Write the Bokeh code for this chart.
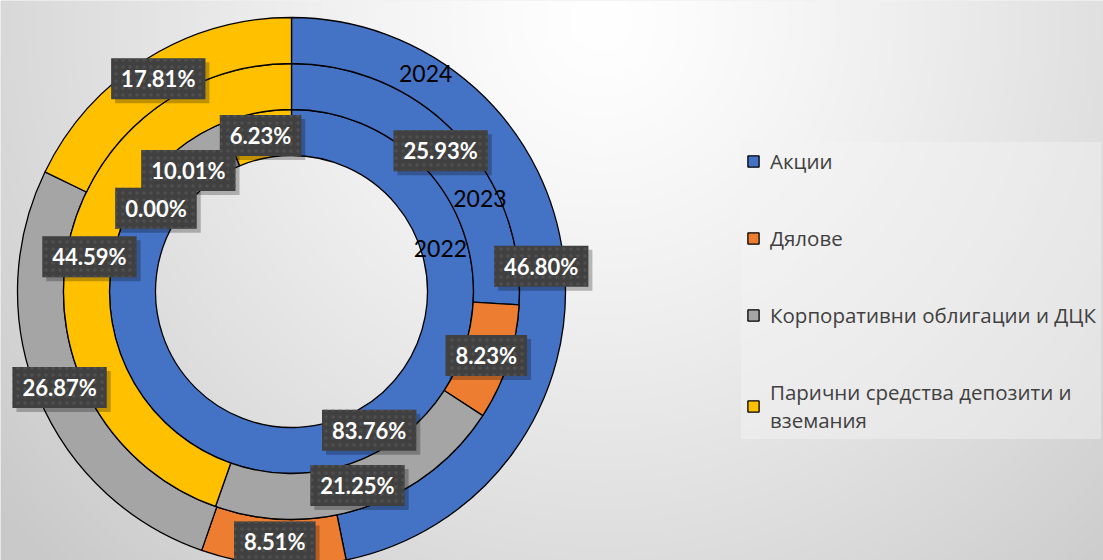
import numpy as np
from bokeh.plotting import figure
from bokeh.models import ColumnDataSource, Legend, LegendItem
from bokeh.core.properties import value
from bokeh.embed import file_html
from bokeh.resources import INLINE

# ---------------- data ----------------
categories = ["Акции", "Дялове", "Корпоративни облигации и ДЦК",
              "Парични средства депозити и\nвземания"]
years = ["2022", "2023", "2024"]          # inner -> outer ring
share_2022 = [83.76, 0.00, 10.01, 6.23]
share_2023 = [25.93, 8.23, 21.25, 44.59]
share_2024 = [46.80, 8.51, 26.87, 17.81]
colors = ["#4472C4", "#ED7D31", "#A5A5A5", "#FFC000"]

# ---------------- layout ----------------
W, H = 1103, 560
CX, CY = 291, 269            # donut centre (data units = pixels)
HOLE = 136                   # inner radius of the innermost ring
RING = 46                    # ring thickness
year_label_angle = [73.9, 63.8, 31.6]   # degrees clockwise from top
year_label_radius_shift = [-4, 5, 5]

rings = [share_2022, share_2023, share_2024]

p = figure(width=W, height=H, x_range=(0, W), y_range=(0, H),
           output_backend="svg", toolbar_location=None, min_border=0)
p.axis.visible = False
p.grid.visible = False
p.outline_line_color = None
p.background_fill_color = "#e6e6e6"
p.border_fill_color = "#e6e6e6"

# soft radial background (white at top, grey towards the corners)
yy, xx = np.mgrid[0:H, 0:W]
top_y = H - 1 - yy
d = np.hypot(xx - 600, top_y - 20)
v = 255 - 54 * np.clip(d / 780.0, 0, 1) ** 1.25
img = np.zeros((H, W), dtype=np.uint32)
view = img.view(dtype=np.uint8).reshape((H, W, 4))
g = v.astype(np.uint8)
view[:, :, 0] = g
view[:, :, 1] = g
view[:, :, 2] = g
view[:, :, 3] = 255
p.image_rgba(image=[img], x=0, y=0, dw=W, dh=H)

# ---------------- wedges ----------------
def frac_bounds(shares):
    tot = float(sum(shares))
    cum = np.cumsum([0.0] + list(shares)) / tot
    return cum[:-1], cum[1:]

bounds = [frac_bounds(s) for s in rings]

renderers = []
for ci, cat in enumerate(categories):
    xs, ys, inner, outer, sa, ea = [], [], [], [], [], []
    for ri, shares in enumerate(rings):
        if shares[ci] <= 0:
            continue
        f0, f1 = bounds[ri][0][ci], bounds[ri][1][ci]
        xs.append(CX)
        ys.append(CY)
        inner.append(HOLE + RING * ri)
        outer.append(HOLE + RING * (ri + 1))
        sa.append(np.pi / 2 - 2 * np.pi * f1)
        ea.append(np.pi / 2 - 2 * np.pi * f0)
    src = ColumnDataSource(dict(x=xs, y=ys, ir=inner, orr=outer, sa=sa, ea=ea))
    r = p.annular_wedge(x="x", y="y", inner_radius="ir", outer_radius="orr",
                        start_angle="sa", end_angle="ea", source=src,
                        fill_color=colors[ci], line_color="black", line_width=1.3)
    renderers.append(r)

# ---------------- year names ----------------
yx, yyy = [], []
for ri, yr in enumerate(years):
    rad = HOLE + RING * ri + RING / 2 + year_label_radius_shift[ri]
    t = np.deg2rad(year_label_angle[ri])
    yx.append(CX + rad * np.sin(t))
    yyy.append(CY + rad * np.cos(t))
p.text(x=yx, y=yyy, text=years, text_align="center", text_baseline="middle",
       text_font=value("Lato"), text_font_size="23px", text_color="black")

# ---------------- data labels ----------------
lx, ly, lt = [], [], []
for ri, shares in enumerate(rings):
    rad = HOLE + RING * ri + RING / 2
    for ci, val in enumerate(shares):
        f = (bounds[ri][0][ci] + bounds[ri][1][ci]) / 2
        t = 2 * np.pi * f
        lx.append(CX + rad * np.sin(t))
        ly.append(CY + rad * np.cos(t))
        lt.append(f"{val:.2f}%")
lsrc = ColumnDataSource(dict(x=lx, y=ly, t=lt))

p.text(x="x", y="y", text="t", source=lsrc, text_align="center",
       text_baseline="middle", text_font=value("Lato"), text_font_style="bold",
       text_font_size="22px", text_alpha=0, x_offset=4, y_offset=4,
       background_fill_color="black", background_fill_alpha=0.25,
       padding=dict(x=10, y=7))
p.text(x="x", y="y", text="t", source=lsrc, text_align="center",
       text_baseline="middle", text_font=value("Lato"), text_font_style="bold",
       text_font_size="22px", text_color="white",
       background_fill_color="#404040", background_fill_alpha=1.0,
       background_hatch_pattern="dot", background_hatch_color="#4f4f4f",
       background_hatch_scale=7, background_hatch_weight=1,
       padding=dict(x=10, y=7))

# ---------------- legend ----------------
legend = Legend(items=[LegendItem(label=c, renderers=[r])
                       for c, r in zip(categories, renderers)],
                location=(741, 121), orientation="vertical",
                label_text_font="Open Sans", label_text_font_size="20.5px",
                label_text_color="#404040", glyph_width=14, glyph_height=14,
                label_standoff=10, spacing=49, padding=5, margin=0,
                border_line_alpha=0, background_fill_color="#f4f4f4",
                background_fill_alpha=0.45)
p.add_layout(legend, "center")

open("out.html", "w").write(file_html(p, INLINE))
